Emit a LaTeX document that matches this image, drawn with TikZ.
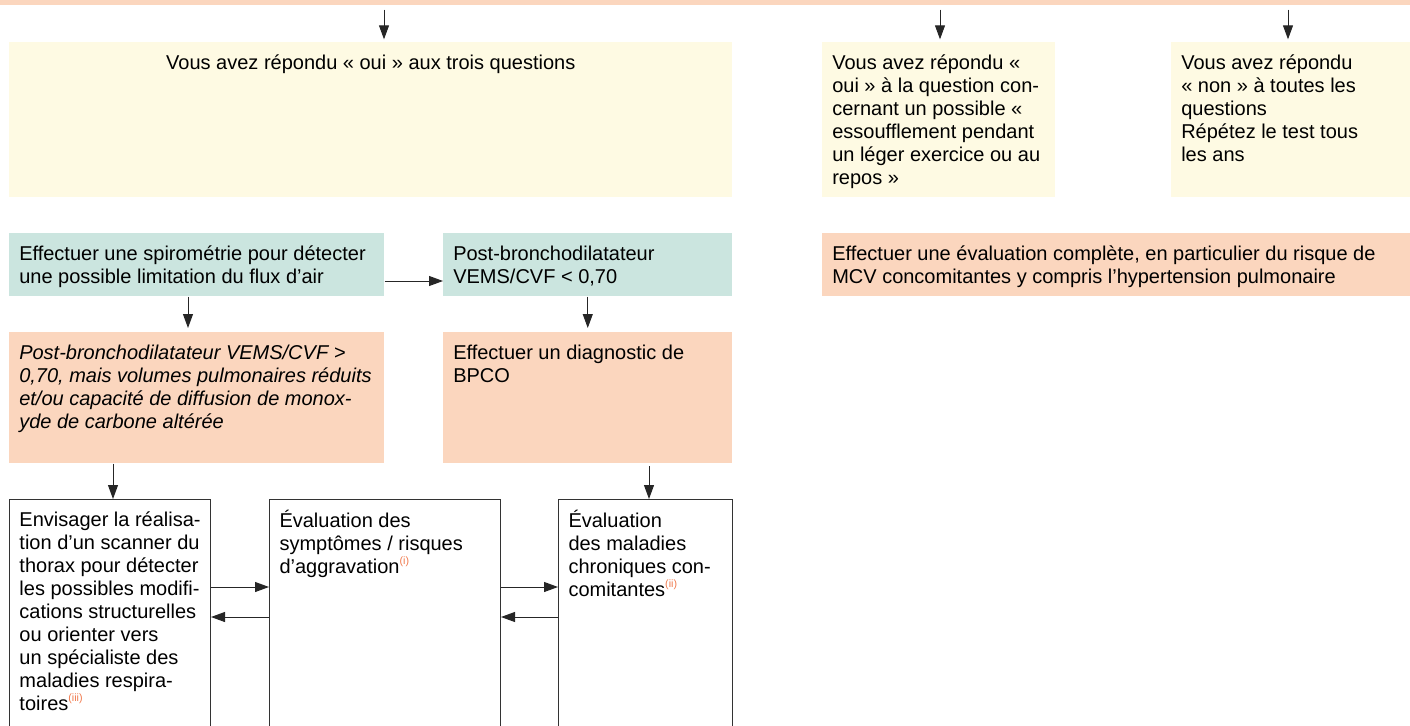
\documentclass[tikz,border=0pt]{standalone}
\usepackage{fontspec}
\setmainfont{Liberation Sans}
\usetikzlibrary{arrows.meta}
\definecolor{peach}{RGB}{251,214,190}
\definecolor{cream}{RGB}{254,250,227}
\definecolor{mint}{RGB}{203,229,223}
\definecolor{noteorange}{RGB}{240,120,75}
\newlength{\pxu}\setlength{\pxu}{0.75pt}
\newcommand{\celltext}[3]{\parbox[c][\dimexpr #2\pxu-16pt\relax][t]{#1\pxu}{\leftskip=10\pxu\strut #3}}
\newcommand{\refnote}[1]{\raisebox{0.85ex}{\fontsize{8}{8}\selectfont\color{noteorange}#1}}
\tikzset{box/.style={anchor=north west, inner xsep=0pt, inner ysep=8pt, font=\fontsize{15}{17.25}\selectfont}}
\tikzset{yellowbox/.style={box, fill=cream}}
\tikzset{tealbox/.style={box, fill=mint}}
\tikzset{peachbox/.style={box, fill=peach}}
\tikzset{whitebox/.style={box, draw=black!80, line width=0.75pt}}
\tikzset{flow/.style={-{Triangle[length=10.5pt,width=7.5pt]}, line width=0.75pt, black!85}}

\begin{document}
\begin{tikzpicture}[x=0.75pt,y=-0.75pt]
\useasboundingbox (0,0) rectangle (1410,725);
\node (band) at (0,0)[anchor=north west, fill=peach, inner sep=0pt, minimum width=1057.5pt, minimum height=3.75pt]{};

\node (y1) at (9,42)[yellowbox]{\celltext{723}{155}{\centering Vous avez répondu « oui » aux trois questions}};
\node (y2) at (822,42)[yellowbox]{\celltext{233}{155}{Vous avez répondu «\\oui » à la question con-\\cernant un possible «\\essoufflement pendant\\un léger exercice ou au\\repos »}};
\node (y3) at (1171,42)[yellowbox]{\celltext{239}{155}{Vous avez répondu\\« non » à toutes les\\questions\\Répétez le test tous\\les ans}};

\node (t1) at (9,233)[tealbox]{\celltext{375}{63}{Effectuer une spirométrie pour détecter\\une possible limitation du flux d’air}};
\node (t2) at (443,233)[tealbox]{\celltext{289}{63}{Post-bronchodilatateur\\VEMS/CVF < 0,70}};
\node (mcv) at (822,233)[peachbox]{\celltext{588}{63}{Effectuer une évaluation complète, en particulier du risque de\\MCV concomitantes y compris l’hypertension pulmonaire}};

\node (o1) at (9,332)[peachbox]{\celltext{375}{131}{\itshape Post-bronchodilatateur VEMS/CVF >\\0,70, mais volumes pulmonaires réduits\\et/ou capacité de diffusion de monox-\\yde de carbone altérée}};
\node (o2) at (443,332)[peachbox]{\celltext{289}{131}{Effectuer un diagnostic de\\BPCO}};

\node (w1) at (9,499)[whitebox]{\celltext{201}{241}{Envisager la réalisa-\\tion d’un scanner du\\thorax pour détecter\\les possibles modifi-\\cations structurelles\\ou orienter vers\\un spécialiste des\\maladies respira-\\toires\refnote{(iii)}}};
\node (w2) at (269,499)[whitebox]{\celltext{231}{241}{Évaluation des\\symptômes / risques\\d’aggravation\refnote{(i)}}};
\node (w3) at (558,499)[whitebox]{\celltext{174}{241}{Évaluation\\des maladies\\chroniques con-\\comitantes\refnote{(ii)}}};

% arrows from the top band
\coordinate (a1) at (384,0);
\coordinate (a2) at (940,0);
\coordinate (a3) at (1288,0);
\draw[flow, shorten <=3pt, shorten >=2pt] (band.south -| a1) -- (y1.north -| a1);
\draw[flow, shorten <=3pt, shorten >=2pt] (band.south -| a2) -- (y2.north -| a2);
\draw[flow, shorten <=3pt, shorten >=2pt] (band.south -| a3) -- (y3.north -| a3);

\coordinate (h1) at (0,281);
\coordinate (v1) at (188,0);
\draw[flow] (t1.east |- h1) -- (t2.west |- h1);
\draw[flow, shorten >=3pt] (t1.south -| v1) -- (o1.north -| v1);
\draw[flow, shorten >=3pt] (t2.south) -- (o2.north);

\coordinate (v2) at (113,0);
\coordinate (v3) at (649,0);
\draw[flow] (o1.south -| v2) -- (w1.north -| v2);
\draw[flow, shorten <=2pt] (o2.south -| v3) -- (w3.north -| v3);

% back and forth between the assessments
\coordinate (h2) at (0,587);
\coordinate (h3) at (0,617);
\draw[flow] (w1.east |- h2) -- (w2.west |- h2);
\draw[flow] (w2.west |- h3) -- (w1.east |- h3);
\draw[flow] (w2.east |- h2) -- (w3.west |- h2);
\draw[flow] (w3.west |- h3) -- (w2.east |- h3);
\end{tikzpicture}
\end{document}
